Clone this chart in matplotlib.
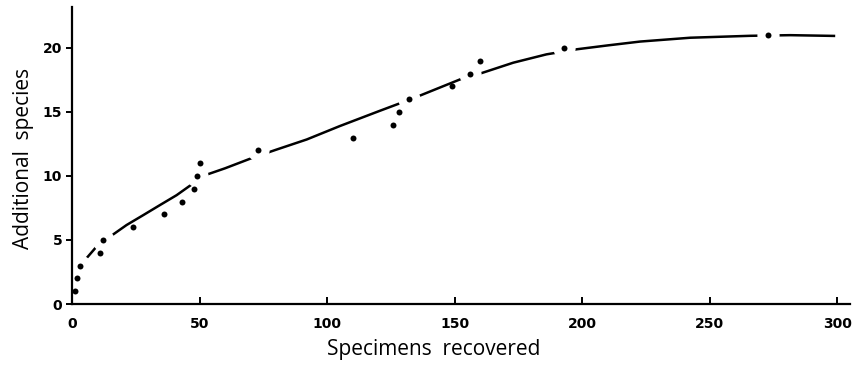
import matplotlib.pyplot as plt
import numpy as np

# observed points (specimens recovered, additional species)
specimens = [1, 2, 3, 11, 12, 24, 36, 43, 48, 49, 50, 73, 110, 126, 128, 132, 149, 156, 160, 193, 273]
species = [1, 2, 3, 4, 5, 6, 7, 8, 9, 10, 11, 12, 13, 14, 15, 16, 17, 18, 19, 20, 21]
# points that sit on the fitted line (line is broken around them)
on_curve = [0, 0, 1, 0, 1, 0, 0, 0, 0, 1, 0, 1, 0, 0, 0, 1, 0, 1, 0, 1, 1]

# fitted curve
curve_x = [3.4, 8.4, 11.6, 14.9, 21.4, 28, 34.5, 41, 46.3, 52, 60, 70.5, 80, 92, 105, 120.8,
           133.8, 152.2, 160, 173, 186, 198, 210, 222.7, 242.4, 265.9, 281.6, 299.2]
curve_y = [3.05, 4.2, 4.95, 5.26, 6.17, 6.95, 7.73, 8.5, 9.25, 10.05, 10.6, 11.4, 12.05, 12.85, 13.9, 15.1,
           16.07, 17.55, 18.0, 18.85, 19.5, 19.9, 20.2, 20.5, 20.8, 20.95, 21.0, 20.94]

fig = plt.figure(figsize=(8.52, 3.65), dpi=100)
ax = fig.add_axes([72/852, 61/365, 778/852, 297/365])

ax.plot(curve_x, curve_y, color="black", lw=1.8, zorder=1,
        solid_capstyle="butt", solid_joinstyle="round")

sx = np.array(specimens)
sy = np.array(species)
m = np.array(on_curve) == 1
# white halo to break the line around the points on it (kept under the spines)
ax.plot(sx[m], sy[m], "o", ms=16, color="white", mec="none", zorder=2)
ax.plot(sx, sy, "o", ms=4.3, color="black", mec="none", zorder=4, clip_on=False)

ax.set_xlim(0, 305)
ax.set_ylim(0, 23.2)
ax.set_xticks([0, 50, 100, 150, 200, 250, 300])
ax.set_yticks([0, 5, 10, 15, 20])

for s in ["top", "right"]:
    ax.spines[s].set_visible(False)
for s in ["left", "bottom"]:
    ax.spines[s].set_linewidth(1.6)

ax.tick_params(axis="x", direction="in", length=5, width=1.4, pad=9, labelsize=10)
ax.tick_params(axis="y", direction="out", length=4, width=1.4, pad=3, labelsize=10)
for lab in ax.get_xticklabels() + ax.get_yticklabels():
    lab.set_fontweight("bold")

ax.set_xlabel("Specimens  recovered", fontsize=15, family="Open Sans")
ax.xaxis.set_label_coords((434 - 72) / 778, -35 / 297)
ax.set_ylabel("Additional  species", fontsize=15, family="Open Sans")
ax.yaxis.set_label_coords(-38 / 778, 0.49)

fig.savefig("out.png", dpi=100)
